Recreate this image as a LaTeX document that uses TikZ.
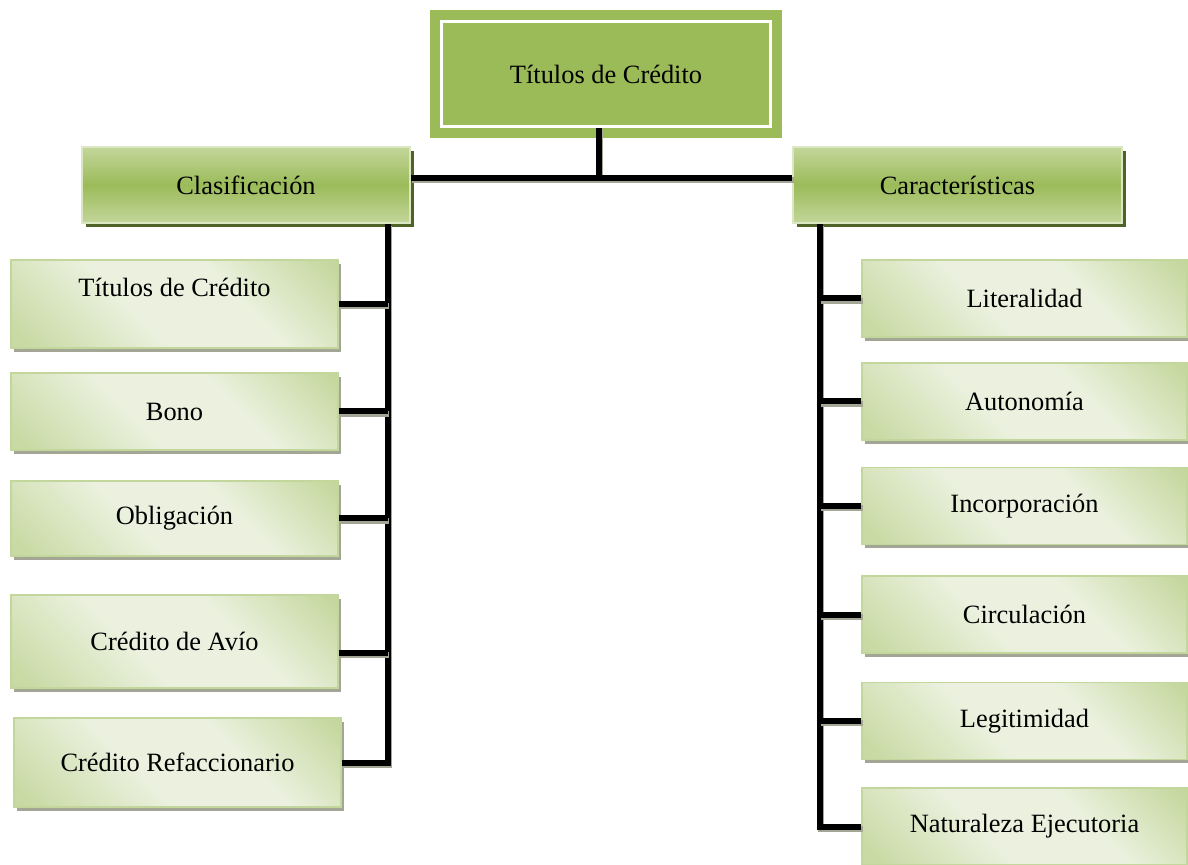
\documentclass[tikz,border=0pt]{standalone}
\usepackage{fontspec}
\setmainfont{Liberation Serif}
\usetikzlibrary{shadows}

\definecolor{olive}{HTML}{9BBB59}
\definecolor{olivelt}{HTML}{C3D69B}
\definecolor{olivepale}{HTML}{EBF1DE}
\definecolor{olivedk}{HTML}{4F6228}
\definecolor{shadowgray}{HTML}{A3A595}

\pgfdeclareverticalshading{darkbar}{100bp}{color(0bp)=(olivelt); color(25bp)=(olivelt); color(50bp)=(olive); color(75bp)=(olivelt); color(100bp)=(olivelt)}
\pgfdeclarehorizontalshading{palebar}{100bp}{color(0bp)=(olivelt); color(18bp)=(olivelt!85!olivepale); color(42bp)=(olivepale); color(62bp)=(olivepale); color(85bp)=(olivelt); color(100bp)=(olivelt)}

\tikzset{
  topbox/.style={fill=olive, draw=white, line width=1.5pt, inner sep=0pt,
    minimum width=164.5pt, minimum height=52.5pt,
    preaction={draw=olive, line width=11.5pt}},
  darkbox/.style={shading=darkbar, draw=olivelt!60!white, line width=0.6pt, inner sep=0pt,
    minimum width=164pt, minimum height=38pt,
    drop shadow={shadow xshift=1.8pt, shadow yshift=-2.2pt, fill=olivedk, opacity=1}},
  palebox/.style={shading=palebar, shading angle=45, draw=olivelt, line width=0.6pt, inner sep=0pt,
    minimum width=163.5pt,
    drop shadow={shadow xshift=1.5pt, shadow yshift=-1.8pt, fill=shadowgray, opacity=1}},
  wire/.style={line width=3pt, black,
    preaction={draw=shadowgray, line width=3pt, transform canvas={xshift=0.6pt, yshift=-1.2pt}}}
}

\begin{document}
\begin{tikzpicture}[x=0.5pt,y=-0.5pt,font=\fontsize{13.2}{16}\selectfont]
	\useasboundingbox (0,0) rectangle (1188,865);

	% top and second level
	\node [topbox] (top) at (606,74) {Títulos de Crédito};
	\node [darkbox] (clas) at (246,185) {Clasificación};
	\node [darkbox, minimum width=164.5pt] (car) at (957.5,185) {Características};

	\coordinate (hub) at (599,178);
	\coordinate (lbus) at (388,0);
	\coordinate (rbus) at (820,0);

	% left column
	\node [palebox, minimum height=44pt, text depth=17pt] (L1) at (174.5,304) {Títulos de Crédito};
	\node [palebox, minimum height=38.5pt] (L2) at (174.5,411.5) {Bono};
	\node [palebox, minimum height=37.5pt] (L3) at (174.5,518.5) {Obligación};
	\node [palebox, minimum height=46.5pt] (L4) at (174.5,641.5) {Crédito de Avío};
	\node [palebox, minimum height=44.5pt] (L5) at (177.5,762.5) {Crédito Refaccionario};

	% right column
	\foreach \n/\y/\t in {R1/298.5/Literalidad, R2/401.5/Autonomía, R3/506/Incorporación,
		R4/614.5/Circulación, R5/721/Legitimidad, R6/826.5/Naturaleza Ejecutoria} {
		\node [palebox, minimum width=162.5pt, minimum height=38.5pt] (\n) at (1024.5,\y) {\t};
	}

	% connectors
	\draw [wire] (hub |- top.south) -- (hub);
	\draw [wire] (clas.east |- hub) -- (car.west |- hub);
	\draw [wire] (L5.east) -- (lbus |- L5.east) -- (lbus |- clas.south);
	\foreach \n in {L1, L2, L3} {
		\draw [wire] (\n.east) -- (lbus |- \n.east);
	}
	\draw [wire] (L4.-4) -- (lbus |- L4.-4);
	\draw [wire] (R6.west) -- (rbus |- R6.west) -- (rbus |- car.south);
	\foreach \n in {R1, R2, R3, R4, R5} {
		\draw [wire] (\n.west) -- (rbus |- \n.west);
	}
\end{tikzpicture}
\end{document}
